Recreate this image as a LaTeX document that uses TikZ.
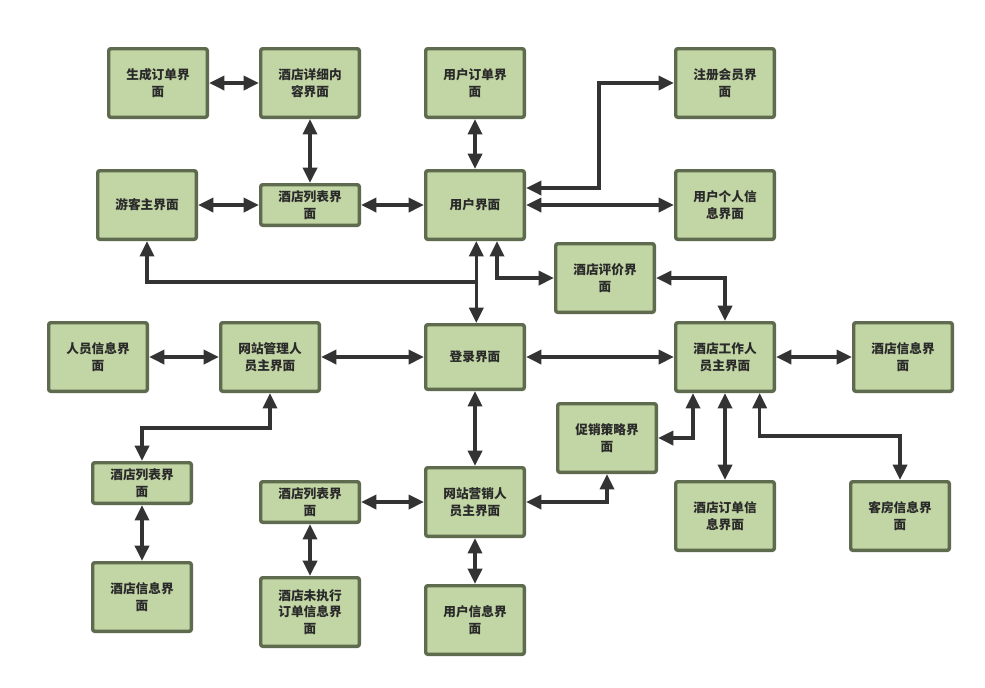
\documentclass[tikz,border=0pt]{standalone}
\usepackage{fontspec}
\setmainfont{Noto Sans CJK SC}
\usetikzlibrary{arrows.meta}
\definecolor{boxfill}{HTML}{C2D5A4}
\definecolor{boxline}{HTML}{5E6B4E}
\definecolor{wire}{HTML}{333333}
\definecolor{ink}{HTML}{2A2A2A}
\tikzset{
  screen/.style={draw=boxline, fill=boxfill, line width=2.6pt, rounded corners=1.5pt,
    minimum width=73.9pt, minimum height=51.4pt, inner sep=0pt, align=center,
    font=\fontsize{9.5}{12.5}\selectfont\bfseries, text=ink},
  thin screen/.style={screen, minimum height=30.4pt},
  link/.style={draw=wire, line width=2.6pt, {Triangle[length=11.5pt,width=10.5pt]}-{Triangle[length=11.5pt,width=10.5pt]}},
  oneway/.style={draw=wire, line width=2.6pt, -{Triangle[length=11.5pt,width=10.5pt]}}
}
\begin{document}
\begin{tikzpicture}[x=0.75pt,y=-0.75pt]
\useasboundingbox (0,0) rectangle (985,687);

% screens
\node[screen] (order)    at (158,83)  {生成订单界\\面};
\node[screen] (detail)   at (310,83)  {酒店详细内\\容界面};
\node[screen] (guest)    at (147,205) {游客主界面};
\node[thin screen] (listA) at (310,205) {酒店列表界\\面};
\node[screen] (uorders)  at (475,83)  {用户订单界\\面};
\node[screen] (register) at (725,83)  {注册会员界\\面};
\node[screen] (user)     at (475,205) {用户界面};
\node[screen] (uinfo)    at (725,205) {用户个人信\\息界面};
\node[screen] (review)   at (605,278) {酒店评价界\\面};
\node[screen] (staff)    at (98,357)  {人员信息界\\面};
\node[screen] (admin)    at (270,357) {网站管理人\\员主界面};
\node[screen, minimum height=48.4pt] (login) at (475,357) {登录界面};
\node[screen] (hstaff)   at (725,357) {酒店工作人\\员主界面};
\node[screen] (hinfoR)   at (903,357) {酒店信息界\\面};
\node[screen] (promo)    at (607,438) {促销策略界\\面};
\node[thin screen] (listB) at (142,483) {酒店列表界\\面};
\node[screen] (hinfoL)   at (142,597) {酒店信息界\\面};
\node[thin screen] (listC) at (310,502) {酒店列表界\\面};
\node[screen] (market)   at (475,502) {网站营销人\\员主界面};
\node[screen] (horders)  at (725,516) {酒店订单信\\息界面};
\node[screen] (rooms)    at (900,516) {客房信息界\\面};
\node[screen] (pending)  at (310,612) {酒店未执行\\订单信息界\\面};
\node[screen] (ulist)    at (475,620) {用户信息界\\面};

% bend points
\coordinate (regTurn) at (599,188);
\coordinate (guestTurn) at (0,282);
\coordinate (adminTurn) at (0,428);
\coordinate (roomTurn) at (0,436);

% links
\draw[link] (order) -- (detail);
\draw[link] (detail) -- (listA);
\draw[link] (guest) -- (listA);
\draw[link] (listA) -- (user);
\draw[link] (uorders) -- (user);
\draw[link] (user.east |- regTurn) -- (regTurn) |- (register.west);
\draw[link] (user) -- (uinfo);
\draw[link] ([xshift=1pt]user.south) -- ([xshift=1pt]login.north);
\draw[oneway] ([xshift=1pt]login.north |- guestTurn) -| (guest.south);
\draw[link] ([xshift=16.5pt]user.south) |- (review.west);
\draw[link] (review.east) -| (hstaff.north);
\draw[link] (staff) -- (admin);
\draw[link] (admin) -- (login);
\draw[link] (login) -- (hstaff);
\draw[link] (hstaff) -- (hinfoR);
\draw[link] (admin.south) -- (admin.south |- adminTurn) -| (listB.north);
\draw[link] (listB) -- (hinfoL);
\draw[link] (login) -- (market);
\draw[link] (market) -- (listC);
\draw[link] (listC) -- (pending);
\draw[link] (market) -- (ulist);
\draw[link] (market.east) -| (promo.south);
\draw[link] ([xshift=-24pt]hstaff.south) |- (promo.east);
\draw[link] (hstaff) -- (horders);
\draw[link] ([xshift=26pt]hstaff.south) -- ([xshift=26pt]hstaff.south |- roomTurn) -| (rooms.north);
\end{tikzpicture}
\end{document}
